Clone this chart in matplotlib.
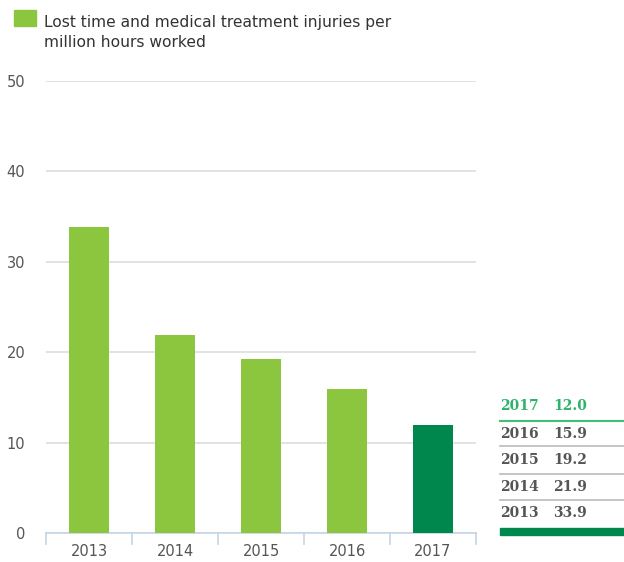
import numpy as np
import matplotlib.pyplot as plt
from matplotlib.lines import Line2D
from matplotlib.patches import Rectangle

years = ['2013', '2014', '2015', '2016', '2017']
injuries = [33.9, 21.9, 19.2, 15.9, 12.0]
yticks = [0, 10, 20, 30, 40, 50]
legend_label = 'Lost time and medical treatment injuries per\nmillion hours worked'

light_green = '#8cc63e'
dark_green = '#00874e'
text_grey = '#555555'

W, H = 624, 562
fig = plt.figure(figsize=(W / 100, H / 100), dpi=100)

# axes placed in pixel terms
ax = fig.add_axes([46 / W, 29 / H, 430 / W, (533 - 81) / H])
x = np.arange(len(years))
colors = [light_green] * (len(years) - 1) + [dark_green]
ax.bar(x, injuries, width=0.465, color=colors, zorder=3)
ax.set_xlim(-0.5, len(years) - 0.5)
ax.set_ylim(0, 50)
ax.set_yticks(yticks)
ax.set_xticks(x)
ax.set_xticklabels(years)
ax.grid(axis='y', color='#dddddd', linewidth=1.2, zorder=0)
for s in ['top', 'right', 'left']:
    ax.spines[s].set_visible(False)
ax.spines['bottom'].set_color('#c5d5e5')
ax.spines['bottom'].set_linewidth(1.2)
ax.tick_params(axis='y', length=0, pad=15, labelcolor=text_grey, labelsize=10.5)
ax.tick_params(axis='x', length=0, pad=8, labelcolor=text_grey, labelsize=10.5)
for b in np.arange(-0.5, len(years), 1.0):
    ax.plot([b, b], [0, -1.2], color='#c5d5e5', lw=1.2, clip_on=False)

# legend
fig.patches.append(Rectangle((14 / W, 1 - 26 / H), 22 / W, 16 / H,
                             transform=fig.transFigure, color=light_green))
fig.text(44 / W, 1 - 15 / H, legend_label, fontsize=11.2, color='#333333',
         va='top', ha='left', linespacing=1.4)

# table at right
row_y = [513, 487, 460, 434, 406]
line_y = [500, 474, 446]
for yr, val, ry in zip(years, injuries, row_y):
    c = '#2db36b' if yr == years[-1] else text_grey
    fig.text(500 / W, 1 - ry / H, yr, fontsize=10, fontweight='bold',
             family='DejaVu Serif', color=c, va='center', ha='left')
    fig.text(553 / W, 1 - ry / H, f'{val:.1f}', fontsize=10, fontweight='bold',
             family='DejaVu Serif', color=c, va='center', ha='left')
for ly in line_y:
    fig.lines.append(Line2D([500 / W, 1], [1 - ly / H] * 2, transform=fig.transFigure,
                            color='#bbbbbb', lw=1.2))
fig.lines.append(Line2D([500 / W, 1], [1 - 421 / H] * 2, transform=fig.transFigure,
                        color='#3cc07a', lw=1.5))
fig.patches.append(Rectangle((500 / W, 1 - 535 / H), 1 - 500 / W, 7 / H,
                             transform=fig.transFigure, color=dark_green))

fig.savefig('out.png', dpi=100)
